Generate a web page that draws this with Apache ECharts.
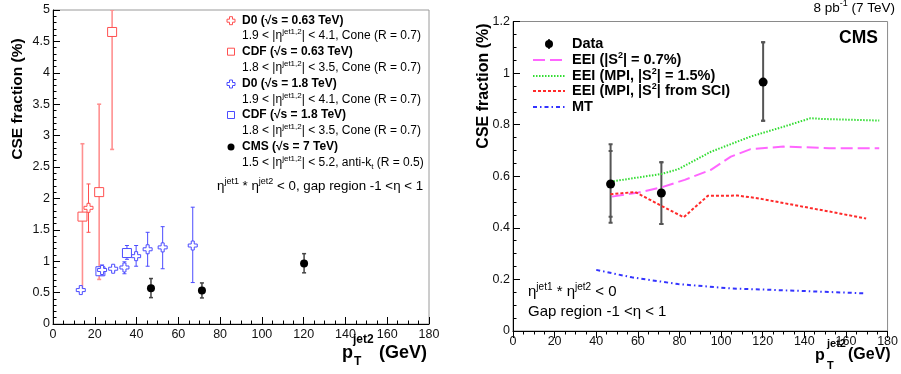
<!DOCTYPE html>
<html><head><meta charset="utf-8">
<script src="https://cdn.jsdelivr.net/npm/echarts@6/dist/echarts.min.js"></script>
<style>html,body{margin:0;padding:0;background:#fff}#c{width:901px;height:374px}</style>
</head><body><div id="c"></div>
<script>
// ---------- data (left panel) ----------
const d0_063_x  = [17.0];
const d0_063_y  = [1.85];
const d0_063_lo = [1.46];
const d0_063_hi = [2.23];

const cdf_063_x  = [14.1, 22.1, 28.3];
const cdf_063_y  = [1.71, 2.10, 4.65];
const cdf_063_lo = [0.55, 0.71, 2.78];
const cdf_063_hi = [2.87, 3.50, 5.00];

const d0_18_x  = [13.3, 23.5, 28.8, 34.2, 39.8, 45.3, 52.5, 66.9];
const d0_18_y  = [0.54, 0.86, 0.88, 0.90, 1.08, 1.19, 1.22, 1.25];
const d0_18_lo = [0.51, 0.77, 0.84, 0.80, 0.92, 0.92, 0.88, 0.66];
const d0_18_hi = [0.57, 0.94, 0.92, 0.99, 1.25, 1.46, 1.55, 1.86];

const cdf_18_x  = [22.7, 35.4];
const cdf_18_y  = [0.84, 1.13];
const cdf_18_lo = [0.78, 1.03];
const cdf_18_hi = [0.90, 1.25];

// ---------- data (CMS, both panels) ----------
const cms_x      = [46.9, 71.3, 120.2];
const cms_y      = [0.570, 0.535, 0.965];
const cms_statLo = [0.443, 0.415, 0.815];
const cms_statHi = [0.698, 0.654, 1.120];
const cms_totLo  = [0.420, 0.415, 0.815];
const cms_totHi  = [0.724, 0.654, 1.120];

// ---------- theory curves (right panel) ----------
const eei07_x = [47.6, 60.3, 71.4, 82.5, 95.1, 104.7, 114.2, 130.0, 152.0, 176.0];
const eei07_y = [0.521, 0.537, 0.557, 0.586, 0.625, 0.676, 0.705, 0.715, 0.709, 0.709];
const mpi15_x = [46.8, 71.4, 79.3, 95.1, 114.2, 130.0, 143.0, 149.0, 176.0];
const mpi15_y = [0.579, 0.609, 0.627, 0.695, 0.754, 0.792, 0.825, 0.822, 0.816];
const sci_x   = [46.8, 58.7, 71.4, 82.0, 93.6, 107.9, 117.4, 142.7, 152.2, 169.7];
const sci_y   = [0.530, 0.539, 0.485, 0.441, 0.524, 0.525, 0.515, 0.477, 0.463, 0.436];
const mt_x    = [40.0, 57.1, 79.3, 104.7, 136.4, 168.9];
const mt_y    = [0.237, 0.208, 0.182, 0.165, 0.156, 0.146];

// ---------- axes ----------
const xMin = 0, xMax = 180, xStep = 20;
const yLeftMin = 0, yLeftMax = 5, yLeftStep = 0.5;
const yRightMin = 0, yRightMax = 1.2, yRightStep = 0.2;

const FONT = 'Liberation Sans, Arial, Helvetica, sans-serif';
const RED = '#ff5050', PINK = '#ff9090', BLUE = '#4c4cff', NAVY = '#2c2c8a';

const CROSS = 'path://M3,0L6,0L6,3L9,3L9,6L6,6L6,9L3,9L3,6L0,6L0,3L3,3Z';

function zip(xs, ys) { return xs.map((x, i) => [x, ys[i]]); }

function errSeries(idx, xs, lo, hi, color, width, cap, inLo, inHi) {
  return {
    type: 'custom', xAxisIndex: idx, yAxisIndex: idx, silent: true, z: 2, clip: true,
    encode: { x: 0, y: [1, 2] },
    data: xs.map((x, i) => [x, lo[i], hi[i], inLo ? inLo[i] : lo[i], inHi ? inHi[i] : hi[i]]),
    renderItem(params, api) {
      const x = api.value(0);
      const p1 = api.coord([x, api.value(1)]), p2 = api.coord([x, api.value(2)]);
      const q1 = api.coord([x, api.value(3)]), q2 = api.coord([x, api.value(4)]);
      const st = { stroke: color, lineWidth: width };
      const kids = [
        { type: 'line', shape: { x1: p1[0], y1: p1[1], x2: p2[0], y2: p2[1] }, style: st },
        { type: 'line', shape: { x1: p1[0] - cap, y1: p1[1], x2: p1[0] + cap, y2: p1[1] }, style: st },
        { type: 'line', shape: { x1: p2[0] - cap, y1: p2[1], x2: p2[0] + cap, y2: p2[1] }, style: st }
      ];
      if (inLo) {
        kids.push({ type: 'line', shape: { x1: q1[0] - cap, y1: q1[1], x2: q1[0] + cap, y2: q1[1] }, style: st });
        kids.push({ type: 'line', shape: { x1: q2[0] - cap, y1: q2[1], x2: q2[0] + cap, y2: q2[1] }, style: st });
      }
      return { type: 'group', children: kids };
    }
  };
}
function markSeries(idx, xs, ys, symbol, size, fill, border) {
  return {
    type: 'scatter', xAxisIndex: idx, yAxisIndex: idx, z: 3, silent: true,
    symbol: symbol, symbolSize: size, data: zip(xs, ys),
    itemStyle: { color: fill, borderColor: border, borderWidth: border ? 1 : 0, opacity: 1 }
  };
}
function lineSeries(xs, ys, color, dash) {
  return {
    type: 'line', xAxisIndex: 1, yAxisIndex: 1, z: 2, silent: true, showSymbol: false,
    data: zip(xs, ys), lineStyle: { color: color, width: 2, type: dash }
  };
}

function xAxisOf(g, ls, inside, len) {
  return {
    type: 'value', gridIndex: g, min: xMin, max: xMax, interval: xStep,
    axisLine: { show: true, onZero: false, lineStyle: { color: '#000', width: 1 } },
    axisTick: { show: true, inside: inside, length: len, lineStyle: { color: '#000', width: 1 } },
    minorTick: { show: true, splitNumber: 4, length: len / 2, lineStyle: { color: '#000', width: 1 } },
    axisLabel: { fontSize: ls, color: '#111', margin: 4, fontFamily: FONT, showMaxLabel: true, showMinLabel: true },
    splitLine: { show: false }, minorSplitLine: { show: false }
  };
}
function yAxisOf(g, mn, mx, step, minorN, ls, inside, len) {
  return {
    type: 'value', gridIndex: g, min: mn, max: mx, interval: step,
    axisLine: { show: true, onZero: false, lineStyle: { color: '#000', width: 1 } },
    axisTick: { show: true, inside: inside, length: len, lineStyle: { color: '#000', width: 1 } },
    minorTick: { show: true, splitNumber: minorN, length: len / 2, lineStyle: { color: '#000', width: 1 } },
    axisLabel: { fontSize: ls, color: '#111', margin: 3, fontFamily: FONT, showMaxLabel: true, showMinLabel: true },
    splitLine: { show: false }, minorSplitLine: { show: false }
  };
}

function crossPts(cx, cy, s, a) {
  return [[cx - a, cy - s], [cx + a, cy - s], [cx + a, cy - a], [cx + s, cy - a], [cx + s, cy + a], [cx + a, cy + a],
          [cx + a, cy + s], [cx - a, cy + s], [cx - a, cy + a], [cx - s, cy + a], [cx - s, cy - a], [cx - a, cy - a]];
}
function txt(x, y, text, rich, extra) {
  return Object.assign({ type: 'text', x: x, y: y, silent: true,
    style: Object.assign({ text: text, rich: rich, align: 'left', verticalAlign: 'middle', fontFamily: FONT }, extra || {}) });
}

const legRich = {
  b: { fontSize: 12, fontWeight: 'bold', fontFamily: FONT, color: '#000', lineHeight: 16 },
  n: { fontSize: 12, fontFamily: FONT, color: '#000', lineHeight: 16 },
  s: { fontSize: 8, fontFamily: FONT, color: '#000', lineHeight: 8, verticalAlign: 'top' },
  u: { fontSize: 8, fontFamily: FONT, color: '#000', lineHeight: 8, verticalAlign: 'bottom' }
};
const navyRichL = {
  n: { fontSize: 13.3, fontFamily: FONT, color: NAVY, lineHeight: 18 },
  s: { fontSize: 9, fontFamily: FONT, color: NAVY, lineHeight: 9, verticalAlign: 'top' }
};
const navyRichR = {
  n: { fontSize: 15, fontFamily: FONT, color: NAVY, lineHeight: 20 },
  s: { fontSize: 10, fontFamily: FONT, color: NAVY, lineHeight: 10, verticalAlign: 'top' }
};
const rLeg = { b: { fontSize: 14.5, fontWeight: 'bold', fontFamily: FONT, color: '#000', lineHeight: 18 },
  s: { fontSize: 9, fontWeight: 'bold', fontFamily: FONT, color: '#000', lineHeight: 9, verticalAlign: 'top' } };

const legLX = 242, legMX = 231;
const legY = [20.7, 36, 51.7, 67.3, 84, 99.5, 115, 131, 147, 163];

const graphics = [
  // axis titles
  { type: 'text', x: 18, y: 99, rotation: Math.PI / 2, silent: true,
    style: { text: 'CSE fraction (%)', font: 'bold 15.5px ' + FONT, fill: '#000', align: 'center', verticalAlign: 'middle' } },
  { type: 'text', x: 484, y: 86, rotation: Math.PI / 2, silent: true,
    style: { text: 'CSE fraction (%)', font: 'bold 16px ' + FONT, fill: '#000', align: 'center', verticalAlign: 'middle' } },
  // left x title
  { type: 'text', x: 342, y: 353, silent: true, style: { text: 'p', font: 'bold 18px ' + FONT, fill: '#000', verticalAlign: 'middle' } },
  { type: 'text', x: 353, y: 340, silent: true, style: { text: 'jet2', font: 'bold 12px ' + FONT, fill: '#000', verticalAlign: 'middle' } },
  { type: 'text', x: 354, y: 362, silent: true, style: { text: 'T', font: 'bold 12px ' + FONT, fill: '#000', verticalAlign: 'middle' } },
  { type: 'text', x: 379, y: 353, silent: true, style: { text: '(GeV)', font: 'bold 18px ' + FONT, fill: '#000', verticalAlign: 'middle' } },
  // right x title
  { type: 'text', x: 815, y: 356, silent: true, style: { text: 'p', font: 'bold 16px ' + FONT, fill: '#000', verticalAlign: 'middle' } },
  { type: 'text', x: 827, y: 344, silent: true, style: { text: 'jet2', font: 'bold 11px ' + FONT, fill: '#000', verticalAlign: 'middle' } },
  { type: 'text', x: 827, y: 366, silent: true, style: { text: 'T', font: 'bold 11px ' + FONT, fill: '#000', verticalAlign: 'middle' } },
  { type: 'text', x: 848, y: 355, silent: true, style: { text: '(GeV)', font: 'bold 16px ' + FONT, fill: '#000', verticalAlign: 'middle' } },
  // right header
  txt(895, 8, '{n|8 pb}{s|-1}{n| (7 TeV)}', {
    n: { fontSize: 13.5, fontFamily: FONT, color: '#000', lineHeight: 17 },
    s: { fontSize: 9, fontFamily: FONT, color: '#000', lineHeight: 9, verticalAlign: 'top' } }, { align: 'right' }),
  { type: 'text', x: 878, y: 38, silent: true, style: { text: 'CMS', font: 'bold 17.5px ' + FONT, fill: '#000', align: 'right', verticalAlign: 'middle' } },

  // left legend markers
  { type: 'polygon', silent: true, shape: { points: crossPts(legMX, legY[0], 4, 1.5) }, style: { fill: '#fff', stroke: RED, lineWidth: 1 } },
  { type: 'rect', silent: true, shape: { x: legMX - 3.5, y: legY[2] - 3.5, width: 7, height: 7 }, style: { fill: '#fff', stroke: RED, lineWidth: 1 } },
  { type: 'polygon', silent: true, shape: { points: crossPts(legMX, legY[4], 4, 1.5) }, style: { fill: '#fff', stroke: BLUE, lineWidth: 1 } },
  { type: 'rect', silent: true, shape: { x: legMX - 3.5, y: legY[6] - 3.5, width: 7, height: 7 }, style: { fill: '#fff', stroke: BLUE, lineWidth: 1 } },
  { type: 'circle', silent: true, shape: { cx: legMX, cy: legY[8], r: 3.5 }, style: { fill: '#000' } },
  // left legend text
  txt(legLX, legY[0], '{b|D0 (√s = 0.63 TeV)}', legRich),
  txt(legLX, legY[1], '{n|1.9 < |η}{s|jet1,2}{n|| < 4.1, Cone (R = 0.7)}', legRich),
  txt(legLX, legY[2], '{b|CDF (√s = 0.63 TeV)}', legRich),
  txt(legLX, legY[3], '{n|1.8 < |η}{s|jet1,2}{n|| < 3.5, Cone (R = 0.7)}', legRich),
  txt(legLX, legY[4], '{b|D0 (√s = 1.8 TeV)}', legRich),
  txt(legLX, legY[5], '{n|1.9 < |η}{s|jet1,2}{n|| < 4.1, Cone (R = 0.7)}', legRich),
  txt(legLX, legY[6], '{b|CDF (√s = 1.8 TeV)}', legRich),
  txt(legLX, legY[7], '{n|1.8 < |η}{s|jet1,2}{n|| < 3.5, Cone (R = 0.7)}', legRich),
  txt(legLX, legY[8], '{b|CMS (√s = 7 TeV)}', legRich),
  txt(legLX, legY[9], '{n|1.5 < |η}{s|jet1,2}{n|| < 5.2, anti-k}{u|t}{n| (R = 0.5)}', legRich),
  txt(217, 186, '{n|η}{s|jet1}{n| * η}{s|jet2}{n| < 0, gap region -1 <η < 1}', navyRichL),

  // right legend
  { type: 'circle', silent: true, shape: { cx: 549, cy: 44, r: 4 }, style: { fill: '#000' } },
  { type: 'line', silent: true, shape: { x1: 549, y1: 39, x2: 549, y2: 49 }, style: { stroke: '#000', lineWidth: 1.5 } },
  { type: 'line', silent: true, shape: { x1: 533, y1: 60, x2: 565, y2: 60 }, style: { stroke: '#ff66ff', lineWidth: 2, lineDash: [12, 5] } },
  { type: 'line', silent: true, shape: { x1: 533, y1: 76, x2: 565, y2: 76 }, style: { stroke: '#33dd33', lineWidth: 2, lineDash: [1.5, 1.5] } },
  { type: 'line', silent: true, shape: { x1: 533, y1: 91, x2: 565, y2: 91 }, style: { stroke: '#ff2a2a', lineWidth: 2, lineDash: [3, 2] } },
  { type: 'line', silent: true, shape: { x1: 533, y1: 107, x2: 565, y2: 107 }, style: { stroke: '#3333ff', lineWidth: 2, lineDash: [4, 3, 1.5, 3] } },
  txt(572, 44, '{b|Data}', rLeg),
  txt(572, 60, '{b|EEI (|S}{s|2}{b|| = 0.7%)}', rLeg),
  txt(572, 76, '{b|EEI (MPI, |S}{s|2}{b|| = 1.5%)}', rLeg),
  txt(572, 91, '{b|EEI (MPI, |S}{s|2}{b|| from SCI)}', rLeg),
  txt(572, 107, '{b|MT}', rLeg),
  // right lower text
  txt(528, 292, '{n|η}{s|jet1}{n| * η}{s|jet2}{n| < 0}', navyRichR),
  txt(528, 312, '{n|Gap region -1 <η < 1}', navyRichR)
];

const option = {
  animation: false,
  backgroundColor: '#fff',
  textStyle: { fontFamily: FONT },
  grid: [
    { left: 53, top: 10, width: 376, height: 314, show: true, borderColor: '#9a9a9a', borderWidth: 1, backgroundColor: 'transparent' },
    { left: 513, top: 21.5, width: 379, height: 309.5, show: true, borderColor: '#8a8a8a', borderWidth: 1, backgroundColor: 'transparent' }
  ],
  xAxis: [xAxisOf(0, 12.5, true, 7), xAxisOf(1, 12.5, false, 7)],
  yAxis: [yAxisOf(0, yLeftMin, yLeftMax, yLeftStep, 5, 12.5, false, -7), yAxisOf(1, yRightMin, yRightMax, yRightStep, 4, 12.5, false, -7)],
  series: [
    // left panel
    errSeries(0, cdf_063_x, cdf_063_lo, cdf_063_hi, PINK, 1.6, 2),
    errSeries(0, d0_063_x, d0_063_lo, d0_063_hi, RED, 1, 2),
    errSeries(0, d0_18_x, d0_18_lo, d0_18_hi, BLUE, 1, 2),
    errSeries(0, cdf_18_x, cdf_18_lo, cdf_18_hi, BLUE, 1, 2),
    errSeries(0, cms_x, cms_totLo, cms_totHi, '#444', 1.5, 2),
    markSeries(0, cdf_063_x, cdf_063_y, 'rect', 9, '#fff', RED),
    markSeries(0, d0_063_x, d0_063_y, CROSS, 9, '#fff', RED),
    markSeries(0, cdf_18_x, cdf_18_y, 'rect', 9, '#fff', BLUE),
    markSeries(0, d0_18_x, d0_18_y, CROSS, 9, '#fff', BLUE),
    markSeries(0, cms_x, cms_y, 'circle', 8, '#000', null),
    // right panel
    lineSeries(eei07_x, eei07_y, '#ff66ff', [12, 5]),
    lineSeries(mpi15_x, mpi15_y, '#33dd33', [1.5, 1.5]),
    lineSeries(sci_x, sci_y, '#ff2a2a', [3, 2]),
    lineSeries(mt_x, mt_y, '#3333ff', [4, 3, 1.5, 3]),
    errSeries(1, cms_x, cms_totLo, cms_totHi, '#555', 2, 2, cms_statLo, cms_statHi),
    markSeries(1, cms_x, cms_y, 'circle', 9, '#000', null)
  ],
  graphic: graphics
};

const chart = echarts.init(document.getElementById('c'), null, { renderer: 'canvas' });
chart.setOption(option);
</script></body></html>
